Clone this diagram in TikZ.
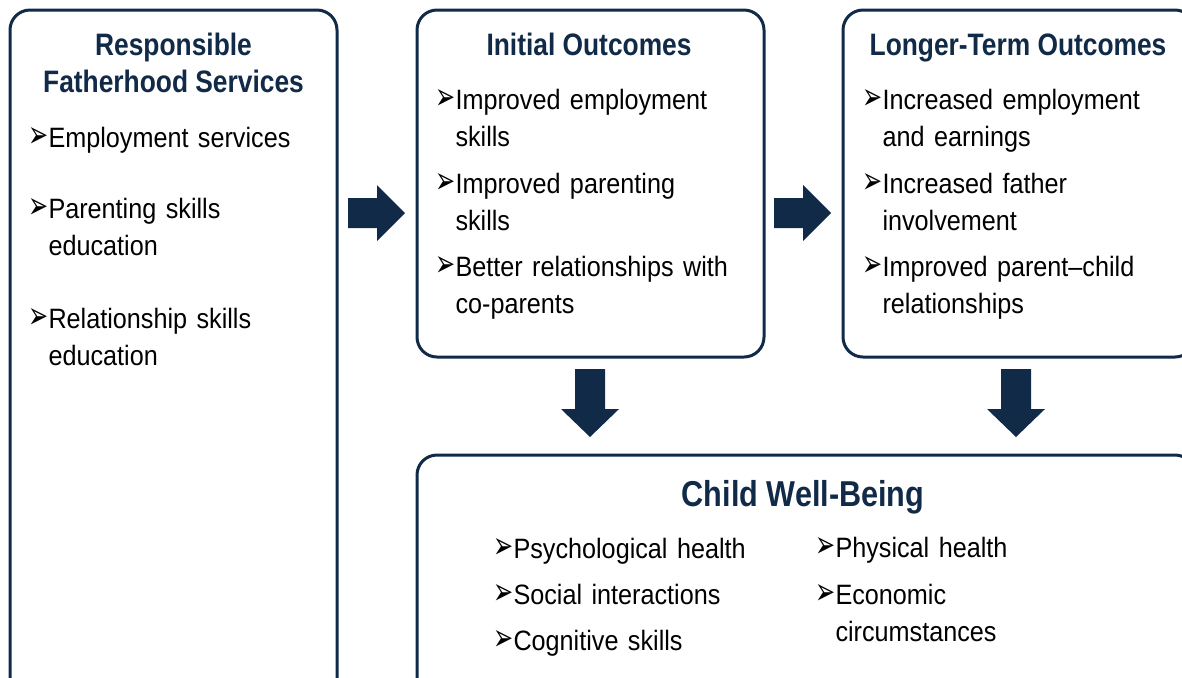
\documentclass[tikz,border=0pt]{standalone}
\usepackage{fontspec}
\setmainfont{Liberation Sans}[FakeStretch=0.9,WordSpace=1.35]
\newfontfamily\ttlfont{Liberation Sans}[FakeStretch=0.85]
\newfontfamily\symfont{DejaVu Sans}
\definecolor{navy}{RGB}{16,42,72}
\newcommand{\bul}{\scalebox{0.8}[1.25]{\symfont\fontsize{15}{15}\selectfont\char"27A2}}
\newcommand{\ind}{\hphantom{\bul}}

\begin{document}
\begin{tikzpicture}[x=0.5pt,y=-0.5pt,
  box/.style={draw=navy,line width=1.5pt,rounded corners=10pt,inner sep=0pt},
  ttl/.style={font=\ttlfont\bfseries\fontsize{15.5}{18.5}\selectfont,text=navy,align=center,anchor=north,inner sep=0pt},
  itm/.style={font=\fontsize{14}{18.5}\selectfont,align=left,anchor=north west,inner sep=0pt}]

\useasboundingbox (0,0) rectangle (1182,677);
\clip (0,0) rectangle (1182,677);

\node[box,minimum width=163.5pt,minimum height=345pt] (svc) at (173.5,355) {};
\node[box,minimum width=173.5pt,minimum height=173.5pt] (init) at (590.5,183.5) {};
\node[box,minimum width=176pt,minimum height=173.5pt] (longer) at (1019,183.5) {};
\node[box,minimum width=389pt,minimum height=122.5pt] (child) at (806,577.5) {};

\node[ttl] (svct) at (173.5,33) {Responsible\\Fatherhood Services};
\node[itm] (svcl) at (28,127) {\bul Employment services\\[17pt]
  \bul Parenting skills\\ \ind education\\[18pt]
  \bul Relationship skills\\ \ind education};

\node[ttl] (initt) at (589,33) {Initial Outcomes};
\node[itm] (initl) at (435,89) {\bul Improved employment\\ \ind skills\\[4.75pt]
  \bul Improved parenting\\ \ind skills\\[4.75pt]
  \bul Better relationships with\\ \ind co-parents};

\node[ttl] (longert) at (1018,33) {Longer-Term Outcomes};
\node[itm] (longerl) at (862,89) {\bul Increased employment\\ \ind and earnings\\[4.75pt]
  \bul Increased father\\ \ind involvement\\[4.75pt]
  \bul Improved parent--child\\ \ind relationships};

\node[ttl,font=\ttlfont\bfseries\fontsize{18}{22}\selectfont] (childt) at (803,480) {Child Well-Being};
\node[itm] (childa) at (493,538) {\bul Psychological health\\[4.5pt]
  \bul Social interactions\\[4.5pt]
  \bul Cognitive skills};
\node[itm] (childb) at (815,537) {\bul Physical health\\[4.75pt]
  \bul Economic\\ \ind circumstances};

% block arrows
\fill[navy] (348,198) -- (377,198) -- (377,185) -- (405,213) -- (377,241) -- (377,228) -- (348,228) -- cycle;
\fill[navy] (774,198) -- (803,198) -- (803,185) -- (831,213) -- (803,241) -- (803,228) -- (774,228) -- cycle;
\fill[navy] (575,369) -- (605,369) -- (605,409) -- (619,409) -- (590,437) -- (561,409) -- (575,409) -- cycle;
\fill[navy] (1001,369) -- (1031,369) -- (1031,409) -- (1045,409) -- (1016,437) -- (987,409) -- (1001,409) -- cycle;
\end{tikzpicture}
\end{document}
